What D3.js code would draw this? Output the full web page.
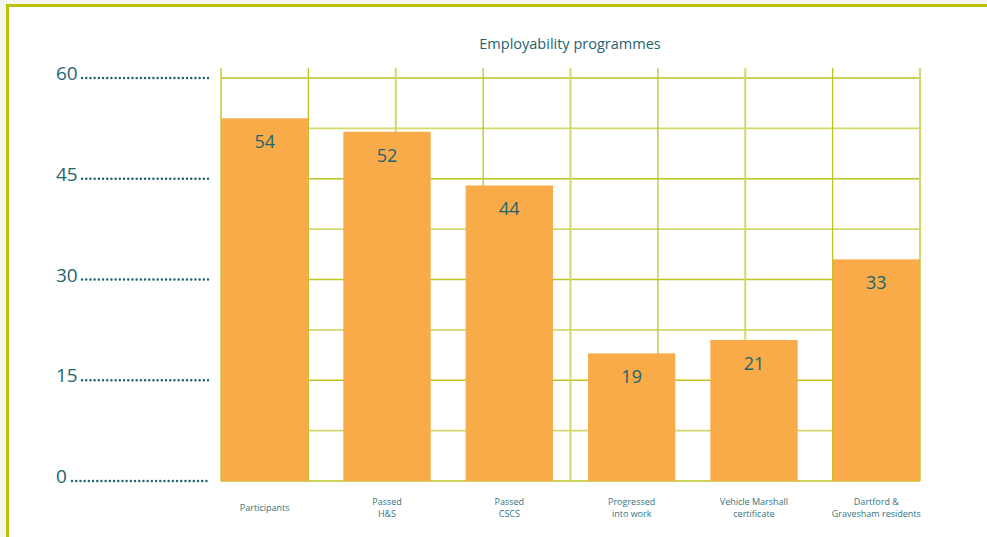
<!DOCTYPE html>
<html lang="en">
<head>
<meta charset="UTF-8">
<title>Employability programmes</title>
<script src="https://d3js.org/d3.v7.min.js"></script>
<style>
  body { margin: 0; background: #f3f5ef; }
  text { font-family: "Open Sans", "Noto Sans", sans-serif; fill: #1f6470; }
  .bar { fill: #f8ab48; }
</style>
</head>
<body>
<script>
// data
var categories = [
  ["Participants"],
  ["Passed", "H&S"],
  ["Passed", "CSCS"],
  ["Progressed", "into work"],
  ["Vehicle Marshall", "certificate"],
  ["Dartford &", "Gravesham residents"]
];
var values = [54, 52, 44, 19, 21, 33];
var yTicks = [0, 15, 30, 45, 60];
var gridStep = 7.5;
var title = "Employability programmes";

var W = 987, H = 537;
// plot box (note: "top" is reserved on window, so use a margin object)
var plot = {left: 221, right: 920, top: 78, bottom: 481};

var svg = d3.select("body").append("svg")
    .attr("width", W)
    .attr("height", H);

// white card with green frame
svg.append("rect").attr("x", 8).attr("y", 6).attr("width", W - 8).attr("height", H - 6).attr("fill", "#fff");
svg.append("line").attr("x1", 6).attr("x2", W).attr("y1", 5.5).attr("y2", 5.5)
    .attr("stroke", "#b9c10b").attr("stroke-width", 3);
svg.append("line").attr("x1", 7.5).attr("x2", 7.5).attr("y1", 4).attr("y2", H)
    .attr("stroke", "#b9c10b").attr("stroke-width", 3);

var y = d3.scaleLinear().domain([0, 60]).range([plot.bottom, plot.top]);
var x = d3.scaleBand()
    .domain(d3.range(categories.length))
    .range([plot.left, plot.right])
    .paddingInner(0.286)
    .paddingOuter(0);
var gx = d3.scaleLinear().domain([0, 8]).range([plot.left, plot.right]);

// grid
var hLines = d3.range(0, 60 + gridStep / 2, gridStep);
svg.append("g").selectAll("line")
    .data(hLines)
  .enter().append("line")
    .attr("x1", plot.left).attr("x2", plot.right)
    .attr("y1", function(d) { return y(d); })
    .attr("y2", function(d) { return y(d); })
    .attr("stroke", function(d, i) { return i % 2 ? "#d2d96a" : "#bcc421"; })
    .attr("stroke-width", 1.6);

svg.append("g").selectAll("line")
    .data(d3.range(0, 9))
  .enter().append("line")
    .attr("x1", function(d) { return gx(d); })
    .attr("x2", function(d) { return gx(d); })
    .attr("y1", plot.top - 10).attr("y2", plot.bottom)
    .attr("stroke", function(d) { return d % 2 ? "#bcc421" : "#d2d96a"; })
    .attr("stroke-width", function(d) { return d % 2 ? 1.3 : 2; });

// bars
svg.append("g").selectAll("rect")
    .data(values)
  .enter().append("rect")
    .attr("class", "bar")
    .attr("x", function(d, i) { return x(i); })
    .attr("y", function(d) { return y(d); })
    .attr("width", x.bandwidth())
    .attr("height", function(d) { return plot.bottom - y(d); });

// value labels
svg.append("g").selectAll("text")
    .data(values)
  .enter().append("text")
    .attr("x", function(d, i) { return x(i) + x.bandwidth() / 2; })
    .attr("y", function(d) { return y(d) + 30; })
    .attr("text-anchor", "middle")
    .style("font-size", "18px")
    .text(function(d) { return d; });

// y labels with dotted leaders
var yl = svg.append("g").selectAll("g")
    .data(yTicks)
  .enter().append("g");
yl.append("text")
    .attr("x", 56)
    .attr("y", function(d) { return y(d) + 2; })
    .style("font-size", "19px")
    .text(function(d) { return d; });
yl.append("line")
    .attr("x1", function(d) { return d === 0 ? 72 : 82; })
    .attr("x2", 208)
    .attr("y1", function(d) { return y(d); })
    .attr("y2", function(d) { return y(d); })
    .attr("stroke", "#1f6470")
    .attr("stroke-width", 2.4)
    .attr("stroke-linecap", "round")
    .attr("stroke-dasharray", "0.1,4.1");

// category labels
var cl = svg.append("g").selectAll("text")
    .data(categories)
  .enter().append("text")
    .attr("text-anchor", "middle")
    .attr("x", function(d, i) { return x(i) + x.bandwidth() / 2; })
    .attr("y", function(d) { return d.length === 1 ? 511 : 505; })
    .style("font-size", "9px")
    .style("fill", "#36747f");
cl.selectAll("tspan")
    .data(function(d) { return d; })
  .enter().append("tspan")
    .attr("x", function() { return d3.select(this.parentNode).attr("x"); })
    .attr("dy", function(d, i) { return i ? 12 : 0; })
    .text(function(d) { return d; });

// title
svg.append("text")
    .attr("x", 570)
    .attr("y", 49)
    .attr("text-anchor", "middle")
    .style("font-size", "14.5px")
    .text(title);
</script>
</body>
</html>
